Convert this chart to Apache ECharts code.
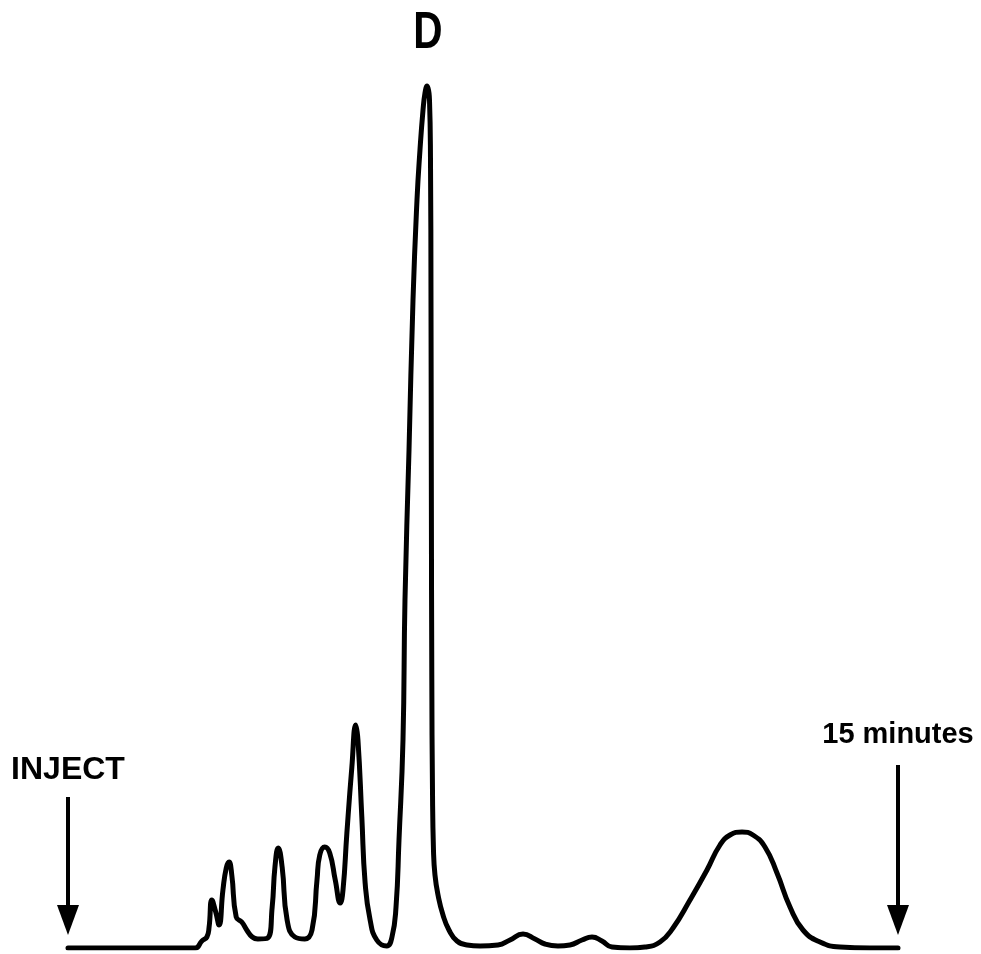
<!DOCTYPE html>
<html>
<head>
<meta charset="utf-8">
<script src="https://cdn.jsdelivr.net/npm/echarts@6/dist/echarts.min.js"></script>
<style>
  html, body { margin: 0; padding: 0; background: #fff; }
  #chart { width: 981px; height: 954px; }
</style>
</head>
<body>
<div id="chart"></div>
<script>
// Retention time (minutes after injection) and detector response of the trace
const minutes = [
  0, 0.94, 2.02, 2.30, 2.42, 2.51, 2.55, 2.60, 2.67, 2.73, 2.80, 2.86, 2.91, 2.96,
  3.04, 3.14, 3.23, 3.33, 3.43, 3.61, 3.69, 3.74, 3.80, 3.87, 3.96, 4.10, 4.28,
  4.41, 4.50, 4.55, 4.64, 4.73, 4.83, 4.92, 4.97, 5.04, 5.13, 5.20, 5.24, 5.31,
  5.37, 5.46, 5.58, 5.76, 5.855, 5.928, 5.982, 6.054, 6.090, 6.163, 6.235, 6.307,
  6.361, 6.416, 6.452, 6.488, 6.533, 6.551, 6.560, 6.567, 6.575, 6.587, 6.605,
  6.632, 6.687, 6.777, 6.885, 7.030, 7.211, 7.446, 7.771, 7.988, 8.223, 8.440,
  8.620, 8.855, 9.072, 9.289, 9.470, 9.650, 9.831, 10.156, 10.427, 10.699, 10.934,
  11.241, 11.548, 11.783, 11.964, 12.181, 12.379, 12.596, 12.813, 13.048, 13.283,
  13.590, 13.952, 14.494, 15
];
const response = [
  0, 0, 0, 0, 7, 11, 21, 48, 36, 23, 58, 80, 86, 73,
  31, 26, 18, 11, 9, 10, 41, 81, 100, 81, 28, 11, 9,
  18, 68, 93, 101, 95, 68, 45, 58, 115, 181, 223, 208, 131,
  65, 28, 8, 2, 11, 41, 108, 208, 348, 498, 648, 748,
  798, 838, 855, 862, 848, 788, 648, 448, 268, 158, 98,
  73, 53, 33, 18, 7, 3, 2, 3, 8, 14, 9,
  4, 2, 3, 8, 11, 7, 1, 0, 1, 6, 20,
  48, 78, 103, 113, 116, 113, 101, 75, 41, 18,
  6, 1, 0, 0
];

// Annotations
const peakLabel = 'D';
const peakIndex = 55;            // apex of the main peak
const injectTime = 0;
const endTime = 15;
const injectText = 'INJECT';
const endText = '15 minutes';

const trace = minutes.map((t, i) => [t, response[i]]);

const chart = echarts.init(document.getElementById('chart'), null, { renderer: 'canvas' });

const arrowLine = (x, top, text, dist, size) => [
  {
    coord: [x, top],
    label: {
      show: true,
      formatter: text,
      position: 'start',
      distance: dist,
      color: '#000',
      fontFamily: 'Liberation Sans, Arial, sans-serif',
      fontWeight: 'bold',
      fontSize: size
    }
  },
  { coord: [x, 28] }
];

chart.setOption({
  backgroundColor: '#ffffff',
  animation: false,
  grid: { left: 68, right: 83, top: 48, bottom: 6 },
  xAxis: { type: 'value', min: 0, max: 15, show: false },
  yAxis: { type: 'value', min: 0, max: 900, show: false },
  series: [
    {
      type: 'line',
      data: trace,
      symbol: 'none',
      smooth: 0.5,
      lineStyle: { color: '#000', width: 5, cap: 'round', join: 'round' },
      markLine: {
        silent: true,
        symbol: ['none', 'triangle'],
        symbolSize: [22, 30],
        lineStyle: { color: '#000', width: 4, type: 'solid' },
        data: [
          arrowLine(injectTime, 151, injectText, 11, 32),
          arrowLine(endTime, 183, endText, 16, 29)
        ]
      }
    }
  ]
});

// Peak name above the apex, drawn in a condensed face
const apex = chart.convertToPixel({ seriesIndex: 0 }, trace[peakIndex]);
chart.setOption({
  graphic: [{
    type: 'text',
    x: apex[0] + 1,
    y: apex[1] - 52,
    scaleX: 0.78,
    style: {
      text: peakLabel,
      fill: '#000',
      font: 'bold 52px "Liberation Sans", Arial, sans-serif',
      textAlign: 'center',
      textVerticalAlign: 'middle'
    }
  }]
});
</script>
</body>
</html>
